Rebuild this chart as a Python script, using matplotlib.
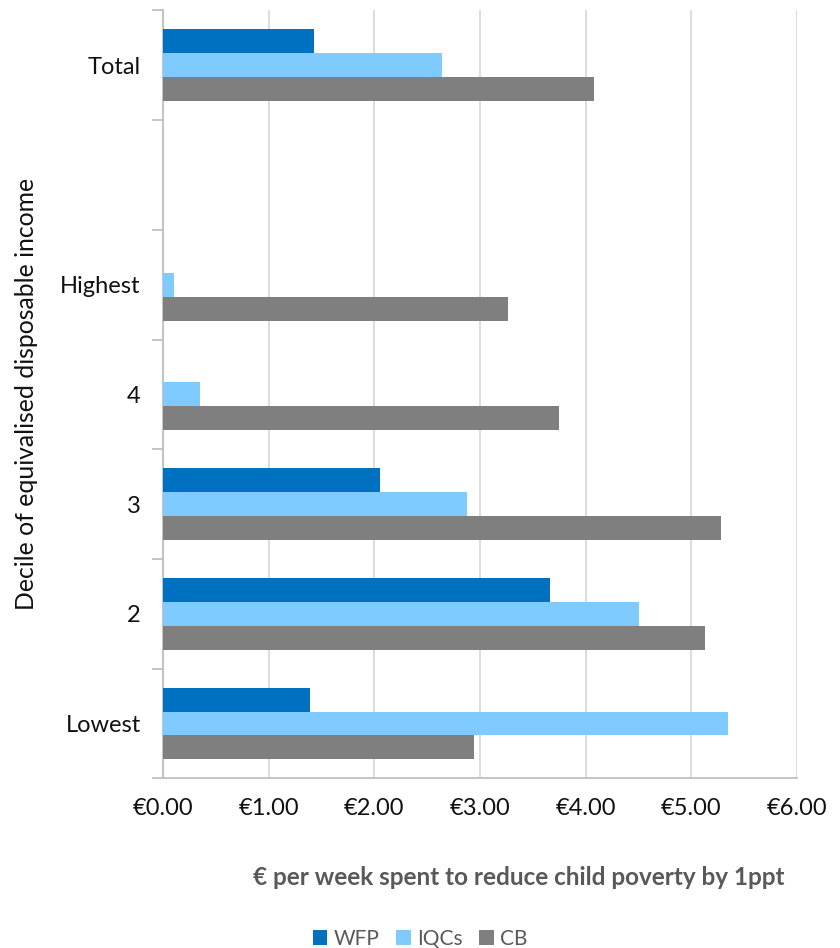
import matplotlib
matplotlib.use("Agg")
import matplotlib.pyplot as plt
import numpy as np

plt.rcParams['font.family'] = ['Lato', 'DejaVu Sans']

categories = ['Lowest', '2', '3', '4', 'Highest', '', 'Total']
wfp = [1.39, 3.66, 2.05, 0.0, 0.0, np.nan, 1.43]
iqcs = [5.35, 4.50, 2.88, 0.35, 0.10, np.nan, 2.64]
cb = [2.94, 5.13, 5.28, 3.75, 3.26, np.nan, 4.08]
xticks = [0, 1, 2, 3, 4, 5, 6]

c_wfp = '#0070C0'
c_iqc = '#7FCBFF'
c_cb = '#7F7F7F'
grid_c = '#D9D9D9'

fig = plt.figure(figsize=(8.4, 9.48), dpi=100)
ax = fig.add_axes([0.194, 0.179, 0.755, 0.81])

y = np.arange(len(categories))
h = 0.218
ax.barh(y + h, wfp, height=h, color=c_wfp, label='WFP', zorder=3)
ax.barh(y, iqcs, height=h, color=c_iqc, label='IQCs', zorder=3)
ax.barh(y - h, cb, height=h, color=c_cb, label='CB', zorder=3)

ax.set_xlim(0, 6)
ax.set_ylim(-0.5, len(categories) - 0.5)
ax.set_xticks(xticks)
ax.set_xticklabels(['€%.2f' % v for v in xticks], fontsize=17, color='#111111')
ax.set_yticks(y)
ax.set_yticklabels(categories, fontsize=17, color='#111111')
# category separators as minor ticks on y
ax.set_yticks(np.arange(-0.5, len(categories), 1.0), minor=True)
ax.tick_params(axis='y', which='major', length=0, pad=16)
ax.tick_params(axis='y', which='minor', length=8, color='#BFBFBF', width=1.3)
ax.tick_params(axis='x', length=0, pad=14)

ax.grid(axis='x', color=grid_c, linewidth=1.3, zorder=0)
for s in ['top', 'right']:
    ax.spines[s].set_visible(False)
ax.spines['left'].set_color('#BFBFBF')
ax.spines['left'].set_linewidth(1.3)
ax.spines['bottom'].set_color('#BFBFBF')
ax.spines['bottom'].set_linewidth(1.3)

ax.set_ylabel('Decile of equivalised disposable income', fontsize=17.8,
              color='#111111', labelpad=16)
fig.text(0.617, 0.074, '€ per week spent to reduce child poverty by 1ppt',
         ha='center', va='center', fontsize=17.5, fontweight='bold', color='#595959')

fig.legend(loc='center', bbox_to_anchor=(0.5, 0.01), ncol=3, frameon=False,
           fontsize=15, handlelength=0.7, handleheight=0.7, handletextpad=0.3,
           columnspacing=0.8, labelcolor='#595959')

fig.savefig('out.png', dpi=100)
